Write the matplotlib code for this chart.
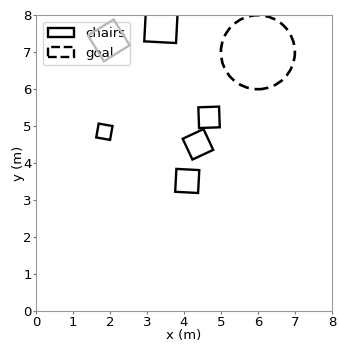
import matplotlib
matplotlib.use("Agg")
import matplotlib.pyplot as plt
from matplotlib.patches import Rectangle, Circle, Patch

# chair data: center x, center y, side (m), rotation (deg), colour
chair_x = [3.38, 1.97, 1.85, 4.68, 4.38, 4.09]
chair_y = [7.70, 7.32, 4.85, 5.24, 4.51, 3.52]
chair_size = [0.86, 0.82, 0.38, 0.56, 0.62, 0.62]
chair_angle = [-3, 32, -10, 2, 25, -3]
chair_color = ["black", "#b8b8b8", "black", "black", "black", "black"]
chair_z = [2, 6, 2, 2, 2, 2]

goal_x, goal_y, goal_r = 6.0, 7.0, 1.0

fig = plt.figure(figsize=(3.39, 3.45), dpi=100)
ax = fig.add_axes([0.106, 0.098, 0.873, 0.858])

for cx, cy, s, a, c, z in zip(chair_x, chair_y, chair_size, chair_angle, chair_color, chair_z):
    r = Rectangle((cx - s / 2, cy - s / 2), s, s, angle=a, rotation_point="center",
                  fill=False, edgecolor=c, linewidth=1.7, zorder=z)
    ax.add_patch(r)

ax.add_patch(Circle((goal_x, goal_y), goal_r, fill=False, edgecolor="black",
                    linestyle=(0, (4, 2.2)), linewidth=1.9))

ax.set_xlim(0, 8)
ax.set_ylim(0, 8)
ax.set_aspect("equal")
ax.set_xticks(range(9))
ax.set_yticks(range(9))
ax.tick_params(labelsize=9.5, colors="#777777", labelcolor="black", length=2, pad=1.5)
ax.tick_params(axis="y", pad=1)
for sp in ax.spines.values():
    sp.set_color("#999999")
ax.set_xlabel("x (m)", fontsize=9.5, labelpad=0)
ax.set_ylabel("y (m)", fontsize=9.5, labelpad=-1)

handles = [Patch(facecolor="white", edgecolor="black", linewidth=1.7, label="chairs"),
           Patch(facecolor="white", edgecolor="black", linewidth=1.7, linestyle="--", label="goal")]
ax.legend(handles=handles, loc="upper left", fontsize=9.5, handlelength=2.0)

fig.savefig("out.png", dpi=100)
